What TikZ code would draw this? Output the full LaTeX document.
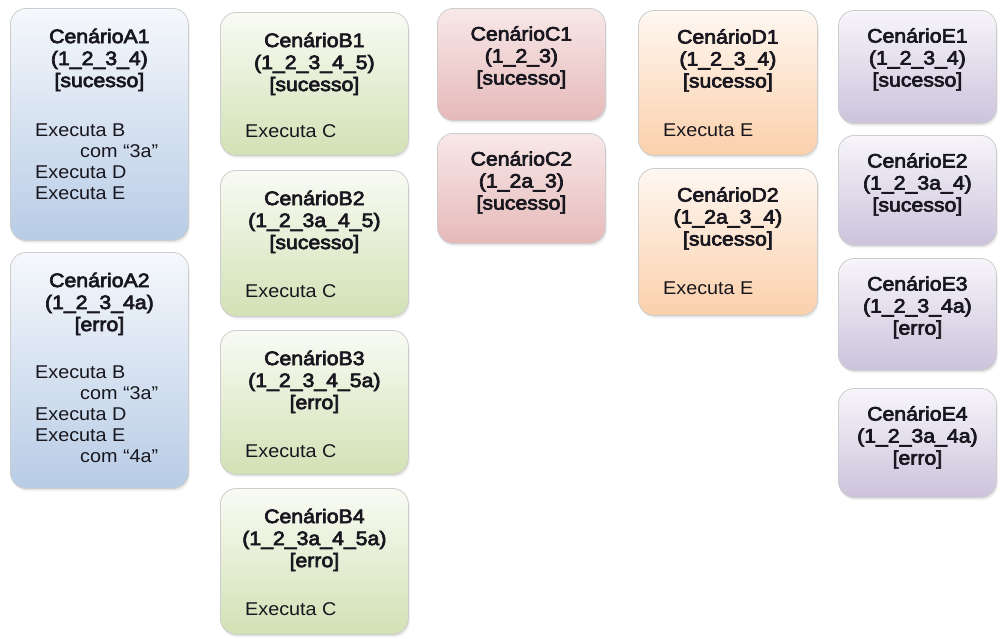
\documentclass[tikz,border=0pt]{standalone}
\usepackage{fontspec}
\setmainfont{Liberation Sans}[FakeStretch=1.07]
\newfontfamily\cardtitlefont{Liberation Sans}[FakeStretch=1.09, FakeBold=3.5]
\usetikzlibrary{shadows}

% fills of the five card families (top -> bottom gradient)
\definecolor{aTop}{HTML}{F5F8FC}\definecolor{aBot}{HTML}{B8CCE6}
\definecolor{bTop}{HTML}{F9FBF4}\definecolor{bBot}{HTML}{D2E1B5}
\definecolor{cTop}{HTML}{F8E8E8}\definecolor{cBot}{HTML}{E6B9B9}
\definecolor{dTop}{HTML}{FEF7F1}\definecolor{dBot}{HTML}{FBD0AB}
\definecolor{eTop}{HTML}{F7F5FA}\definecolor{eBot}{HTML}{CCC3DC}
\definecolor{cardline}{HTML}{CDCDCD}
\definecolor{ink}{HTML}{18161E}

\tikzset{
  card/.style={rectangle, rounded corners=16pt, draw=cardline, line width=0.8pt,
    anchor=north west, inner sep=0pt,
    drop shadow={opacity=0.10, shadow xshift=1.5pt, shadow yshift=-3pt},
    drop shadow={opacity=0.12, shadow xshift=0.8pt, shadow yshift=-1.5pt}},
  cardA/.style={card, top color=aTop, bottom color=aBot},
  cardB/.style={card, top color=bTop, bottom color=bBot},
  cardC/.style={card, top color=cTop, bottom color=cBot},
  cardD/.style={card, top color=dTop, bottom color=dBot},
  cardE/.style={card, top color=eTop, bottom color=eBot},
  ttl/.style={anchor=north, align=center, inner sep=0pt, text=ink,
    font=\cardtitlefont\fontsize{19.5}{22}\selectfont},
  txt/.style={anchor=north west, align=left, inner sep=0pt, text=ink,
    font=\fontsize{18.5}{21}\selectfont}
}

% \card[title offset]{name}{style}{x}{y}{width}{height}{title}
\newcommand\card[8][20.5]{%
  \node[#3, minimum width=#6pt, minimum height=#7pt] (#2) at (#4,#5) {};
  \node[ttl] (#2t) at ([yshift=-#1pt]#2.north) {#8};
}
% \cardbody[vertical offset]{name}{lines}
\newcommand\cardbody[3][114]{%
  \node[txt] (#2b) at ([xshift=25pt,yshift=-#1pt]#2.north west) {#3};
}
\newcommand\indentcom{\hspace*{45pt}}

\begin{document}
\begin{tikzpicture}[x=1pt,y=-1pt]
\useasboundingbox (0,0) rectangle (1000,638);

% column A
\card{a1}{cardA}{10}{8}{178}{232}{CenárioA1\\(1\_2\_3\_4)\\[0pt][sucesso]}
\cardbody[116]{a1}{Executa B\\\indentcom com “3a”\\Executa D\\Executa E}
\card{a2}{cardA}{10}{252}{178}{236}{CenárioA2\\(1\_2\_3\_4a)\\[0pt][erro]}
\cardbody{a2}{Executa B\\\indentcom com “3a”\\Executa D\\Executa E\\\indentcom com “4a”}

% column B
\card{b1}{cardB}{220}{12}{188}{143}{CenárioB1\\(1\_2\_3\_4\_5)\\[0pt][sucesso]}
\cardbody[112]{b1}{Executa C}
\card{b2}{cardB}{220}{170}{188}{146}{CenárioB2\\(1\_2\_3a\_4\_5)\\[0pt][sucesso]}
\cardbody{b2}{Executa C}
\card{b3}{cardB}{220}{330}{188}{144}{CenárioB3\\(1\_2\_3\_4\_5a)\\[0pt][erro]}
\cardbody{b3}{Executa C}
\card{b4}{cardB}{220}{488}{188}{146}{CenárioB4\\(1\_2\_3a\_4\_5a)\\[0pt][erro]}
\cardbody{b4}{Executa C}

% column C
\card[18]{c1}{cardC}{437}{8}{168}{112}{CenárioC1\\(1\_2\_3)\\[0pt][sucesso]}
\card[18]{c2}{cardC}{437}{133}{168}{110}{CenárioC2\\(1\_2a\_3)\\[0pt][sucesso]}

% column D
\card[19]{d1}{cardD}{638}{10}{179}{145}{CenárioD1\\(1\_2\_3\_4)\\[0pt][sucesso]}
\cardbody{d1}{Executa E}
\card[19]{d2}{cardD}{638}{168}{179}{147}{CenárioD2\\(1\_2a\_3\_4)\\[0pt][sucesso]}
\cardbody{d2}{Executa E}

% column E
\card[18]{e1}{cardE}{838}{10}{158}{113}{CenárioE1\\(1\_2\_3\_4)\\[0pt][sucesso]}
\card[18]{e2}{cardE}{838}{135}{158}{110}{CenárioE2\\(1\_2\_3a\_4)\\[0pt][sucesso]}
\card[18]{e3}{cardE}{838}{258}{158}{112}{CenárioE3\\(1\_2\_3\_4a)\\[0pt][erro]}
\card[18]{e4}{cardE}{838}{388}{158}{109}{CenárioE4\\(1\_2\_3a\_4a)\\[0pt][erro]}
\end{tikzpicture}
\end{document}
